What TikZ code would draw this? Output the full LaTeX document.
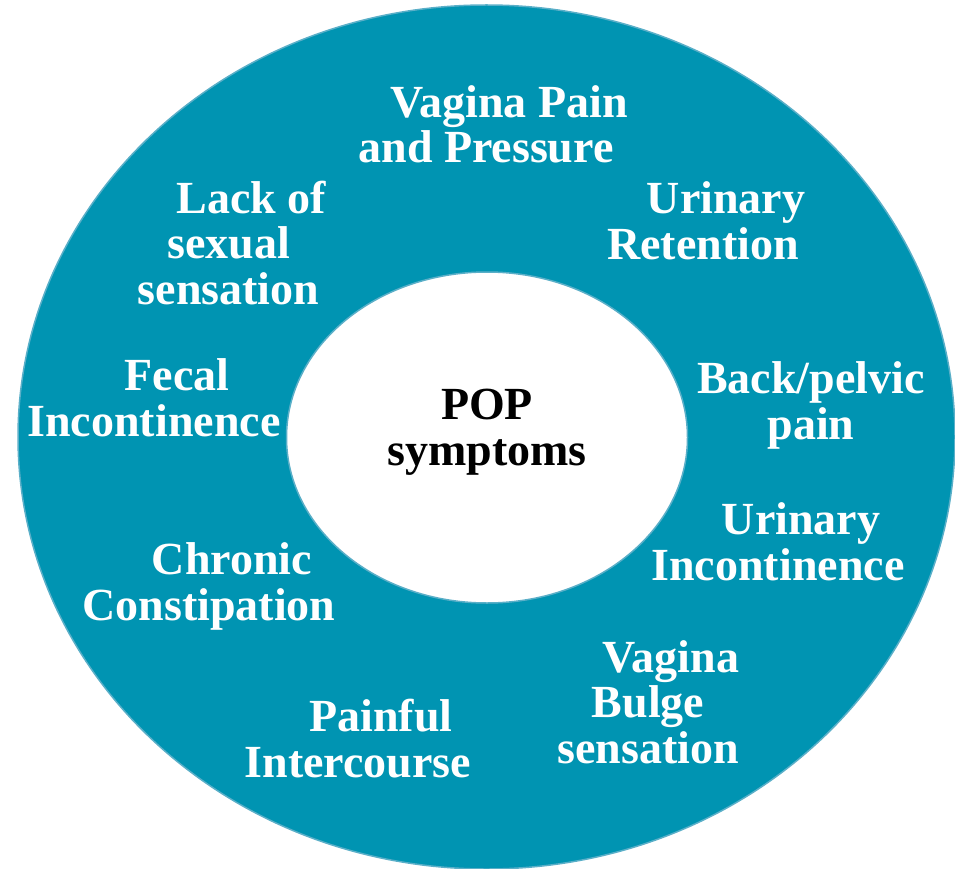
\documentclass[tikz,border=0pt]{standalone}
\usepackage{fontspec}
\setmainfont{Liberation Serif}
\usetikzlibrary{shapes.geometric}
\definecolor{ringteal}{HTML}{0094B2}
\definecolor{ringedge}{HTML}{5AAFC8}
\newcommand{\ind}{\hspace*{1em}}
\tikzset{
  symptom/.style={text=white,font=\bfseries\fontsize{46}{45.5}\selectfont,align=center,anchor=base,inner sep=0pt},
}

\begin{document}
\begin{tikzpicture}[x=1pt,y=-1pt]
\useasboundingbox (0,0) rectangle (955,869);
\node (ring) [ellipse,fill=ringteal,draw=ringedge,line width=1.5pt,inner sep=0pt,
  minimum width=937pt,minimum height=864pt] at (486.5,437) {};
\node (core) [ellipse,fill=white,draw=ringedge,line width=1.5pt,inner sep=0pt,
  minimum width=401pt,minimum height=331pt] at (487,437.5) {};
\node (coretext) [symptom,text=black] at (487,465) {POP\\symptoms};

\node (pressure) [symptom] at (486,163) {\ind Vagina Pain\\and Pressure};
\node (retention) [symptom] at (703,259) {\ind Urinary\\Retention};
\node (sexual) [symptom] at (228.5,304) {\ind Lack of\\sexual\\sensation};
\node (fecal) [symptom] at (154,436) {\ind Fecal\\Incontinence};
\node (pelvic) [symptom] at (811,439) {Back/pelvic\\pain};
\node (urinary) [symptom] at (778,580) {\ind Urinary\\Incontinence};
\node (constipation) [symptom] at (209,620) {\ind Chronic\\Constipation};
\node (bulge) [symptom] at (648,763) {\ind Vagina\\Bulge\\sensation};
\node (intercourse) [symptom] at (358,777) {\ind Painful\\Intercourse};
\end{tikzpicture}
\end{document}
